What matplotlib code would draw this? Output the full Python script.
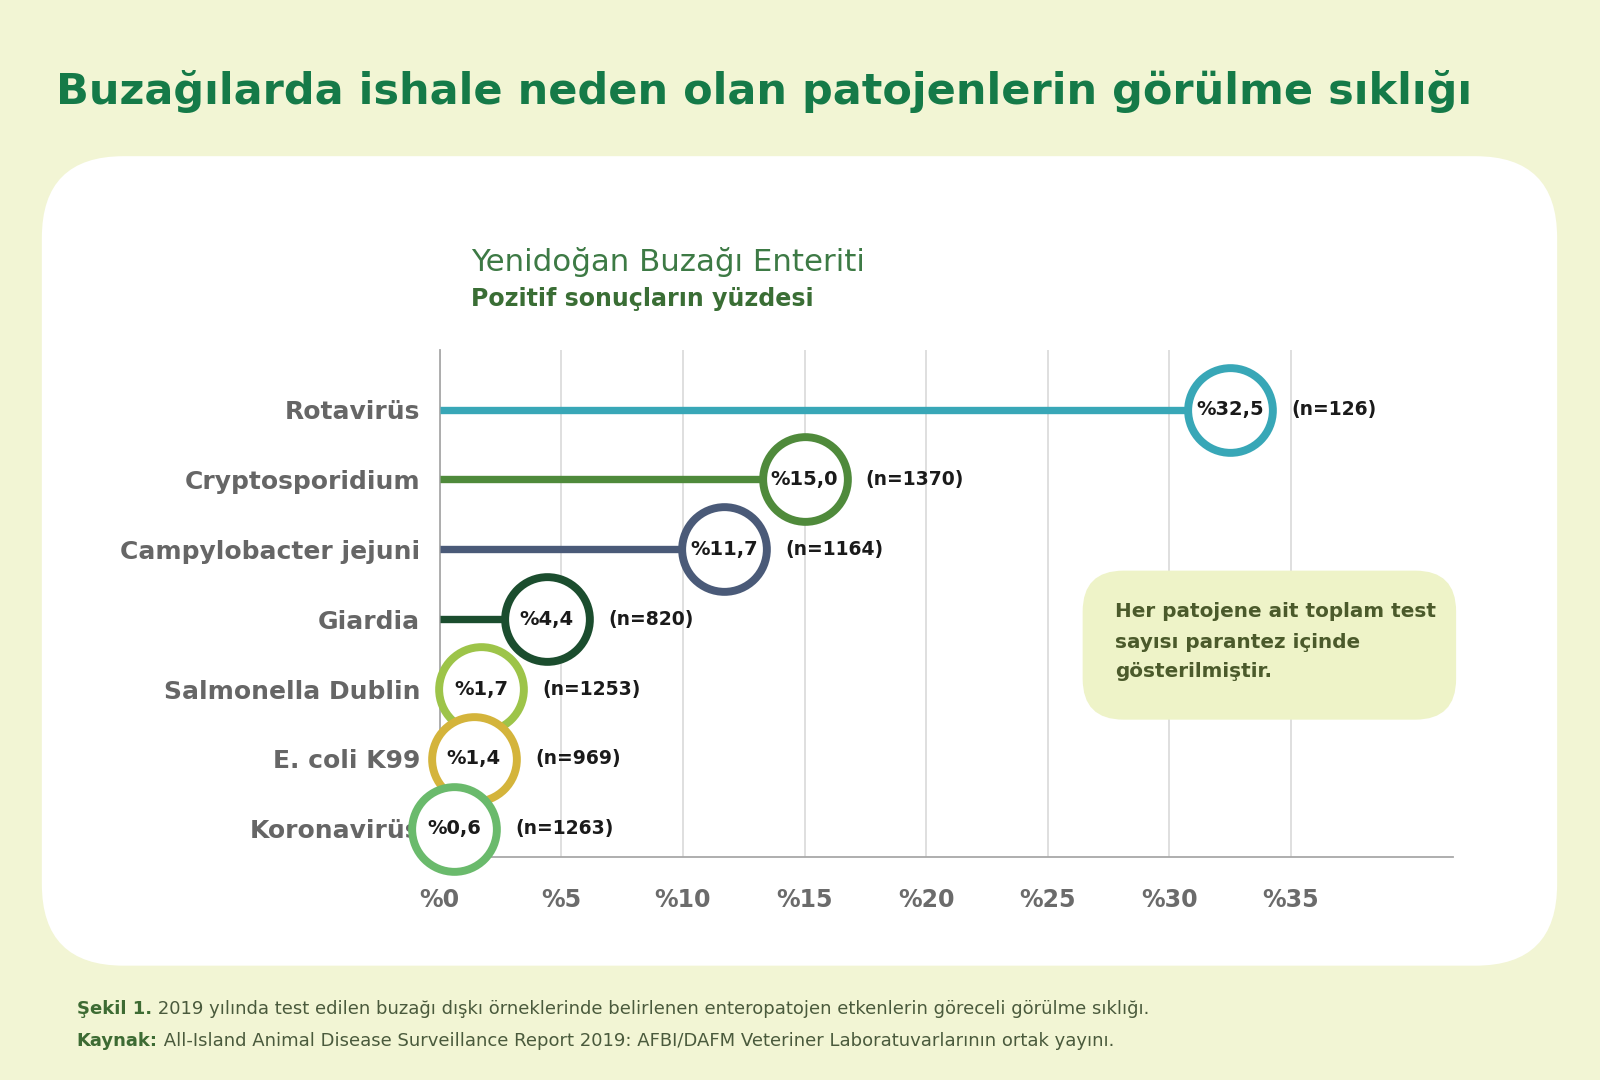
import matplotlib
matplotlib.use('Agg')
import matplotlib.pyplot as plt
from matplotlib.patches import FancyBboxPatch

plt.rcParams['font.family'] = ['DejaVu Sans']

# ---------------- data ----------------
categories = ['Rotavirüs', 'Cryptosporidium', 'Campylobacter jejuni', 'Giardia',
              'Salmonella Dublin', 'E. coli K99', 'Koronavirüs']
values = [32.5, 15.0, 11.7, 4.4, 1.7, 1.4, 0.6]
n_tests = [126, 1370, 1164, 820, 1253, 969, 1263]
colors = ['#38a7b7', '#4f8a3b', '#4a5a78', '#1b4d2e', '#9dc449', '#d4b43b', '#6aba6c']
xticks = [0, 5, 10, 15, 20, 25, 30, 35]
xtick_labels = ['%0', '%5', '%10', '%15', '%20', '%25', '%30', '%35']

title = 'Buzağılarda ishale neden olan patojenlerin görülme sıklığı'
subtitle = 'Yenidoğan Buzağı Enteriti'
subtitle2 = 'Pozitif sonuçların yüzdesi'
note_lines = ['Her patojene ait toplam test', 'sayısı parantez içinde', 'gösterilmiştir.']
cap1_bold, cap1_text = 'Şekil 1.', ' 2019 yılında test edilen buzağı dışkı örneklerinde belirlenen enteropatojen etkenlerin göreceli görülme sıklığı.'
cap2_bold, cap2_text = 'Kaynak:', ' All-Island Animal Disease Surveillance Report 2019: AFBI/DAFM Veteriner Laboratuvarlarının ortak yayını.'

# ---------------- style ----------------
BG = '#f2f5d4'
W, H = 1568, 1058

fig = plt.figure(figsize=(16, 10.8), dpi=100)
fig.patch.set_facecolor(BG)

bg = fig.add_axes([0, 0, 1, 1], zorder=0)
bg.set_xlim(0, W)
bg.set_ylim(H, 0)
bg.axis('off')

panel = FancyBboxPatch((41, 153), 1485, 793, boxstyle='round,pad=0,rounding_size=80',
                       fc='white', ec='none')
bg.add_patch(panel)

bg.text(55, 102, title, fontsize=31, fontweight='bold', color='#157a48', va='baseline', ha='left')
bg.text(462, 265, subtitle, fontsize=22.2, color='#3d7a45', va='baseline', ha='left')
bg.text(462, 300, subtitle2, fontsize=17.1, fontweight='bold', color='#3a6e35', va='baseline', ha='left')

# ---------------- main axes ----------------
ax = fig.add_axes([431 / W, 1 - 840 / H, (1424 - 431) / W, (840 - 343) / H], zorder=1)
ax.patch.set_alpha(0)
n = len(categories)
ypos = [n - 1 - i for i in range(n)]
ax.set_xlim(0, 41.67)
ax.set_ylim(-0.41, 6.85)

ax.set_axisbelow(True)
ax.set_xticks(xticks)
ax.set_xticklabels(xtick_labels, fontsize=17, fontweight='bold', color='#6b6b6b')
ax.set_yticks(ypos)
ax.set_yticklabels(categories, fontsize=18, fontweight='bold', color='#666666')
ax.tick_params(axis='y', length=0, pad=14)
ax.tick_params(axis='x', length=0, pad=22)
ax.xaxis.grid(True, color='#dcdcdc', lw=1.3)
ax.yaxis.grid(False)
for s in ['top', 'right']:
    ax.spines[s].set_visible(False)
for s in ['left', 'bottom']:
    ax.spines[s].set_color('#a8a8a8')
    ax.spines[s].set_linewidth(1.3)

for i, (cat, v, nt, c, y) in enumerate(zip(categories, values, n_tests, colors, ypos)):
    ax.plot([0, v], [y, y], color=c, lw=5.3, solid_capstyle='butt', zorder=3)
    ax.plot([v], [y], marker='o', ms=61, mfc='white', mec=c, mew=5.7,
            zorder=10 + 2 * i, clip_on=False)
    ax.text(v, y, '%' + f'{v:.1f}'.replace('.', ','), ha='center', va='center',
            fontsize=14, fontweight='bold', color='#1a1a1a', zorder=11 + 2 * i, clip_on=False)
    ax.annotate(f'(n={nt})', xy=(v, y), xytext=(44, 0), textcoords='offset points',
                ha='left', va='center', fontsize=13.5, fontweight='bold', color='#1a1a1a',
                zorder=11 + 2 * i)

# note box (drawn above grid lines)
note = FancyBboxPatch((1061, 559), 366, 146, boxstyle='round,pad=0,rounding_size=40',
                      fc='#eef3c8', ec='none', transform=bg.transData, clip_on=False, zorder=30)
ax.add_patch(note)
for yy, line in zip([599, 629, 658], note_lines):
    ax.text(1093, yy, line, transform=bg.transData, fontsize=14.4, fontweight='bold',
            color='#4b5a2b', ha='left', va='center', zorder=31, clip_on=False)

# ---------------- caption ----------------
r = fig.canvas.get_renderer()
for yy, b, t in [(988, cap1_bold, cap1_text), (1020, cap2_bold, cap2_text)]:
    tb = bg.text(75, yy, b, fontsize=13, fontweight='bold', color='#3d6b33', ha='left', va='center')
    bb = tb.get_window_extent(renderer=r)
    x1 = bg.transData.inverted().transform((bb.x1, bb.y0))[0]
    bg.text(x1, yy, t, fontsize=13, color='#4a5a3c', ha='left', va='center')

fig.savefig('out.png', dpi=100, facecolor=BG)
